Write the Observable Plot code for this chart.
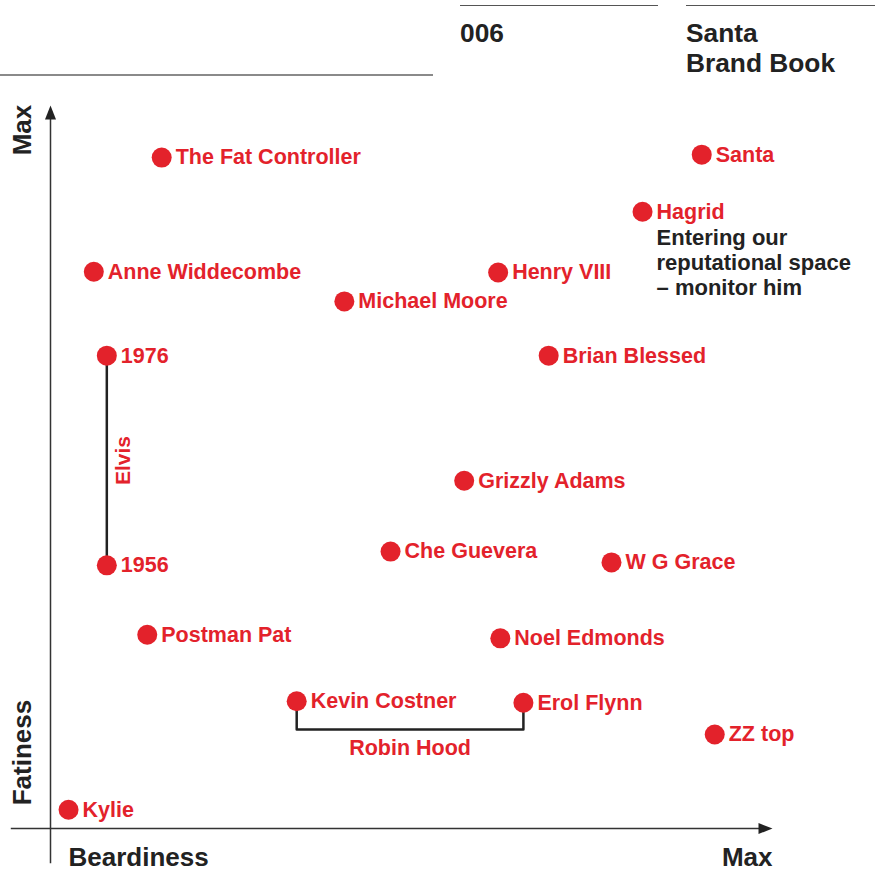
<!DOCTYPE html>
<html>
<head>
<meta charset="utf-8">
<script src="https://cdn.jsdelivr.net/npm/d3@7"></script>
<script src="https://cdn.jsdelivr.net/npm/@observablehq/plot@0.6"></script>
<style>
  html, body { margin: 0; padding: 0; background: #fff; }
  #wrap { position: relative; width: 875px; height: 871px; overflow: hidden; font-family: "Liberation Sans", Arial, sans-serif; }
  .hd { position: absolute; font-size: 26.3px; font-weight: bold; line-height: 30px; color: #222; white-space: pre; }
  .ln { position: absolute; }
  #chart { position: absolute; left: 0; top: 0; }
</style>
</head>
<body>
<div id="wrap">
  <div class="ln" style="left:460px;top:5px;width:198px;height:1px;background:#555"></div>
  <div class="ln" style="left:686px;top:5px;width:189px;height:1px;background:#555"></div>
  <div class="ln" style="left:0px;top:74px;width:433px;height:2px;background:#8a8a8a"></div>
  <div class="hd" id="pagenum" style="left:460px;top:18px"></div>
  <div class="hd" id="booktitle" style="left:686px;top:18px"></div>
  <div id="chart"></div>
</div>
<script>
// ---- header text ----
const pageNumber = "006";
const bookTitle = ["Santa", "Brand Book"];

// ---- axis labels ----
const xAxisLabel = "Beardiness";
const yAxisLabel = "Fatiness";
const maxLabel = "Max";

// ---- data (0 = none, 100 = max) ----
const names = ["The Fat Controller", "Santa", "Hagrid", "Anne Widdecombe", "Henry VIII",
  "Michael Moore", "1976", "Brian Blessed", "Grizzly Adams", "Che Guevera", "1956",
  "W G Grace", "Postman Pat", "Noel Edmonds", "Kevin Costner", "Erol Flynn", "ZZ top", "Kylie"];
const beardiness = [15.4, 90.2, 82.0, 6.0, 62.0, 40.7, 7.8, 69.0, 57.3, 47.1, 7.8,
  77.7, 13.4, 62.3, 34.1, 65.5, 92.0, 2.5];
const fatness = [92.8, 93.2, 85.3, 77.0, 76.9, 72.9, 65.4, 65.4, 48.1, 38.3, 36.4,
  36.8, 26.8, 26.3, 17.6, 17.4, 13.0, 2.6];

// Elvis: young and old
const elvisLabel = "Elvis";
const elvisPoints = ["1976", "1956"];
// Robin Hood pairing
const robinLabel = "Robin Hood";
const robinPoints = ["Kevin Costner", "Erol Flynn"];
const robinBracketFatness = 13.7;
// Hagrid note
const noteFor = "Hagrid";
const noteText = "Entering our\nreputational space\n– monitor him";

// axis extents (data units)
const xAxisFrom = -5.5;
const yAxisFrom = -4.8;
const axisTo = 100;

const RED = "#e3222b";
const INK = "#222";

document.getElementById("pagenum").textContent = pageNumber;
document.getElementById("booktitle").textContent = bookTitle.join("\n");

const people = names.map((n, i) => ({name: n, x: beardiness[i], y: fatness[i]}));
const byName = Object.fromEntries(people.map(d => [d.name, d]));

const elvis = elvisPoints.map(n => byName[n]);
const elvisMid = [{x: elvis[0].x, y: (elvis[0].y + elvis[1].y) / 2, label: elvisLabel}];

const r0 = byName[robinPoints[0]], r1 = byName[robinPoints[1]];
const bracket = [
  {x: r0.x, y: r0.y}, {x: r0.x, y: robinBracketFatness},
  {x: r1.x, y: robinBracketFatness}, {x: r1.x, y: r1.y}
];
const robinMid = [{x: (r0.x + r1.x) / 2, y: robinBracketFatness, label: robinLabel}];

const note = [{...byName[noteFor], text: noteText}];

const axes = [
  {x1: 0, y1: yAxisFrom, x2: 0, y2: axisTo - 1.5},
  {x1: xAxisFrom, y1: 0, x2: axisTo - 1.5, y2: 0}
];
const heads = [
  {x: 0, y: axisTo, rot: 0},
  {x: axisTo, y: 0, rot: 90}
];
const arrowHead = {
  draw(ctx) {
    ctx.moveTo(0, 0);
    ctx.lineTo(-5.5, 14);
    ctx.lineTo(5.5, 14);
    ctx.closePath();
  }
};

const axisTitles = [
  {x: xAxisFrom + 1.6, y: 96.6, text: maxLabel, rotate: -90, anchor: "middle"},
  {x: xAxisFrom + 1.6, y: 10.5, text: yAxisLabel, rotate: -90, anchor: "middle"},
  {x: 2.5, y: -5.3, text: xAxisLabel, rotate: 0, anchor: "start"},
  {x: axisTo, y: -5.3, text: maxLabel, rotate: 0, anchor: "end"}
];

const chart = Plot.plot({
  width: 875,
  height: 871,
  margin: 0,
  x: {domain: [0, 100], range: [50, 772], axis: null},
  y: {domain: [0, 100], range: [828, 105], axis: null},
  style: {fontFamily: "'Liberation Sans', Arial, sans-serif", background: "transparent"},
  marks: [
    Plot.link(axes, {x1: "x1", y1: "y1", x2: "x2", y2: "y2", stroke: "#333", strokeWidth: 1.5}),
    Plot.dot(heads, {x: "x", y: "y", symbol: arrowHead, rotate: "rot", fill: "#222", stroke: null}),
    Plot.text(axisTitles.filter(d => d.rotate !== 0), {x: "x", y: "y", text: "text", rotate: -90,
      textAnchor: "middle", fontSize: 26, fontWeight: "bold", fill: INK}),
    Plot.text(axisTitles.filter(d => d.anchor === "start"), {x: "x", y: "y", text: "text",
      textAnchor: "start", lineAnchor: "middle", dy: -9, fontSize: 26, fontWeight: "bold", fill: INK}),
    Plot.text(axisTitles.filter(d => d.anchor === "end"), {x: "x", y: "y", text: "text",
      textAnchor: "end", lineAnchor: "middle", dy: -9, fontSize: 26, fontWeight: "bold", fill: INK}),
    Plot.line(elvis, {x: "x", y: "y", stroke: INK, strokeWidth: 2.5}),
    Plot.line(bracket, {x: "x", y: "y", stroke: INK, strokeWidth: 2.5, curve: "linear"}),
    Plot.text(elvisMid, {x: "x", y: "y", text: "label", rotate: -90, dx: 16, textAnchor: "middle",
      fontSize: 21, fontWeight: "bold", fill: RED}),
    Plot.text(robinMid, {x: "x", y: "y", text: "label", dy: 19, textAnchor: "middle",
      fontSize: 21.5, fontWeight: "bold", fill: RED}),
    Plot.dot(people, {x: "x", y: "y", r: 10, fill: RED, stroke: null}),
    Plot.text(people, {x: "x", y: "y", text: "name", dx: 14, textAnchor: "start",
      fontSize: 21.5, fontWeight: "bold", fill: RED}),
    Plot.text(note, {x: "x", y: "y", text: "text", dx: 14, dy: 15, textAnchor: "start",
      lineAnchor: "top", lineHeight: 1.14, fontSize: 22, fontWeight: "bold", fill: INK})
  ]
});
document.getElementById("chart").appendChild(chart);
</script>
</body>
</html>
